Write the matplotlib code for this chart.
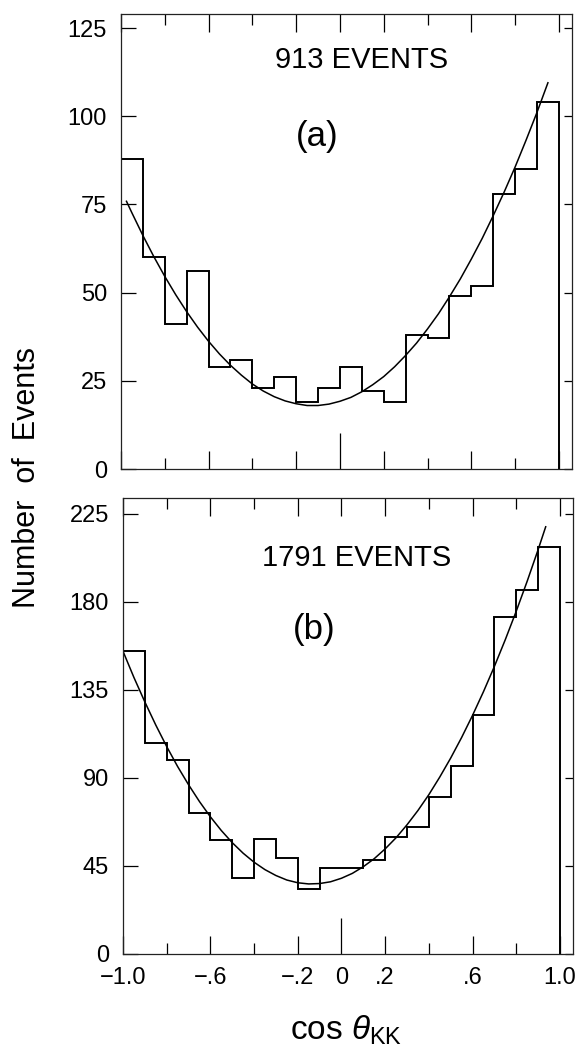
import numpy as np
import matplotlib
matplotlib.use("Agg")
import matplotlib.pyplot as plt

plt.rcParams['font.family'] = ['Liberation Sans', 'DejaVu Sans']
plt.rcParams['mathtext.fontset'] = 'custom'
plt.rcParams['mathtext.rm'] = 'Liberation Sans'
plt.rcParams['mathtext.it'] = 'Liberation Sans:italic'

# bins of cos(theta_KK), width 0.1
bin_edges = np.linspace(-1.0, 1.0, 21)

counts_a = [88, 60, 41, 56, 29, 31, 23, 26, 19, 23,
            29, 22, 19, 38, 37, 49, 52, 78, 85, 104]
counts_b = [155, 108, 99, 72, 58, 39, 59, 49, 33, 44,
            44, 48, 60, 65, 80, 96, 122, 172, 186, 208]

# fitted curves
fit_x_a = [-0.975, -0.95, -0.9, -0.85, -0.8, -0.75, -0.7, -0.65, -0.6, -0.55,
           -0.5, -0.45, -0.4, -0.35, -0.3, -0.25, -0.2, -0.15, -0.1, -0.05,
           0.0, 0.05, 0.1, 0.15, 0.2, 0.25, 0.3, 0.35, 0.4, 0.45,
           0.5, 0.55, 0.6, 0.65, 0.7, 0.75, 0.8, 0.85, 0.9, 0.95]
fit_y_a = [75.9, 72.6, 66.2, 60.2, 54.6, 49.4, 44.6, 40.2, 36.2, 32.6,
           29.4, 26.6, 24.1, 22.1, 20.5, 19.3, 18.5, 18.0, 18.0, 18.4,
           19.2, 20.3, 21.9, 23.9, 26.2, 29.0, 32.2, 35.7, 39.7, 44.0,
           48.8, 53.9, 59.5, 65.4, 71.8, 78.5, 85.6, 93.2, 101.1, 109.5]
fit_x_b = [-1.0, -0.95, -0.9, -0.85, -0.8, -0.75, -0.7, -0.65, -0.6, -0.55,
           -0.5, -0.45, -0.4, -0.35, -0.3, -0.25, -0.2, -0.15, -0.1, -0.05,
           0.0, 0.05, 0.1, 0.15, 0.2, 0.25, 0.3, 0.35, 0.4, 0.45,
           0.5, 0.55, 0.6, 0.65, 0.7, 0.75, 0.8, 0.85, 0.9, 0.935]
fit_y_b = [154.7, 141.3, 128.8, 117.0, 106.0, 95.8, 86.5, 77.9, 70.1, 63.1,
           56.9, 51.5, 46.9, 43.1, 40.1, 37.8, 36.4, 35.8, 36.0, 36.9,
           38.7, 41.2, 44.6, 48.7, 53.7, 59.4, 66.0, 73.3, 81.4, 90.4,
           100.1, 110.6, 121.9, 134.0, 146.9, 160.6, 175.1, 190.4, 206.5, 218.3]

events = ["913 EVENTS", "1791 EVENTS"]
panel_tags = ["(a)", "(b)"]
yticks_a = [0, 25, 50, 75, 100, 125]
yticks_b = [0, 45, 90, 135, 180, 225]
xtick_major = [-1.0, -0.6, -0.2, 0.0, 0.2, 0.6, 1.0]
xtick_labels = ["\u22121.0", "\u2212.6", "\u2212.2", "0", ".2", ".6", "1.0"]
xtick_minor = [-0.8, -0.4, 0.4, 0.8]

fig = plt.figure(figsize=(5.75, 10.55), dpi=100)
ax_a = fig.add_axes([121/575, 1 - 469/1055, 451/575, 455/1055])
ax_b = fig.add_axes([123/575, 1 - 954/1055, 450/575, 456/1055])

panels = [
    (ax_a, counts_a, fit_x_a, fit_y_a, yticks_a, 129, (0.534, 0.899), (0.435, 0.73)),
    (ax_b, counts_b, fit_x_b, fit_y_b, yticks_b, 233, (0.52, 0.868), (0.424, 0.711)),
]

for i, (ax, counts, fx, fy, yt, ytop, ev_pos, tag_pos) in enumerate(panels):
    ax.stairs(counts, bin_edges, baseline=0, color='black', linewidth=1.4)
    ax.plot(fx, fy, color='black', linewidth=1.1)

    ax.set_xlim(-1.0, 1.06)
    ax.set_ylim(0, ytop)
    for sp in ax.spines.values():
        sp.set_linewidth(0.9)
        sp.set_color('#222222')

    ax.set_xticks(xtick_major)
    ax.set_xticks(xtick_minor, minor=True)
    ax.set_yticks(yt)
    ax.tick_params(axis='x', which='major', direction='in', top=True, bottom=True,
                   length=13, width=0.9, labelsize=17, pad=9)
    ax.tick_params(axis='x', which='minor', direction='in', top=True, bottom=True,
                   length=8, width=0.9)
    ax.tick_params(axis='y', direction='in', left=True, right=True,
                   length=11, width=0.9, labelsize=17, pad=10)
    for t in ax.yaxis.get_major_ticks():
        t.tick2line.set_markersize(6)
    # longer tick at zero
    zero_tick = ax.xaxis.get_major_ticks()[3]
    zero_tick.tick1line.set_markersize(26)

    if i == 0:
        ax.tick_params(axis='x', labelbottom=False)
    else:
        ax.set_xticklabels(xtick_labels)

    ax.text(ev_pos[0], ev_pos[1], events[i], transform=ax.transAxes,
            ha='center', va='center', fontsize=21)
    ax.text(tag_pos[0], tag_pos[1], panel_tags[i], transform=ax.transAxes,
            ha='center', va='center', fontsize=25)

fig.text(27/575, 1 - 477/1055, "Number  of  Events", rotation=90,
         ha='center', va='center', fontsize=22)
fig.text(346/575, 1 - 1030/1055, r"cos $\theta_{\mathrm{KK}}$",
         ha='center', va='center', fontsize=24)

fig.savefig("out.png", dpi=100)
